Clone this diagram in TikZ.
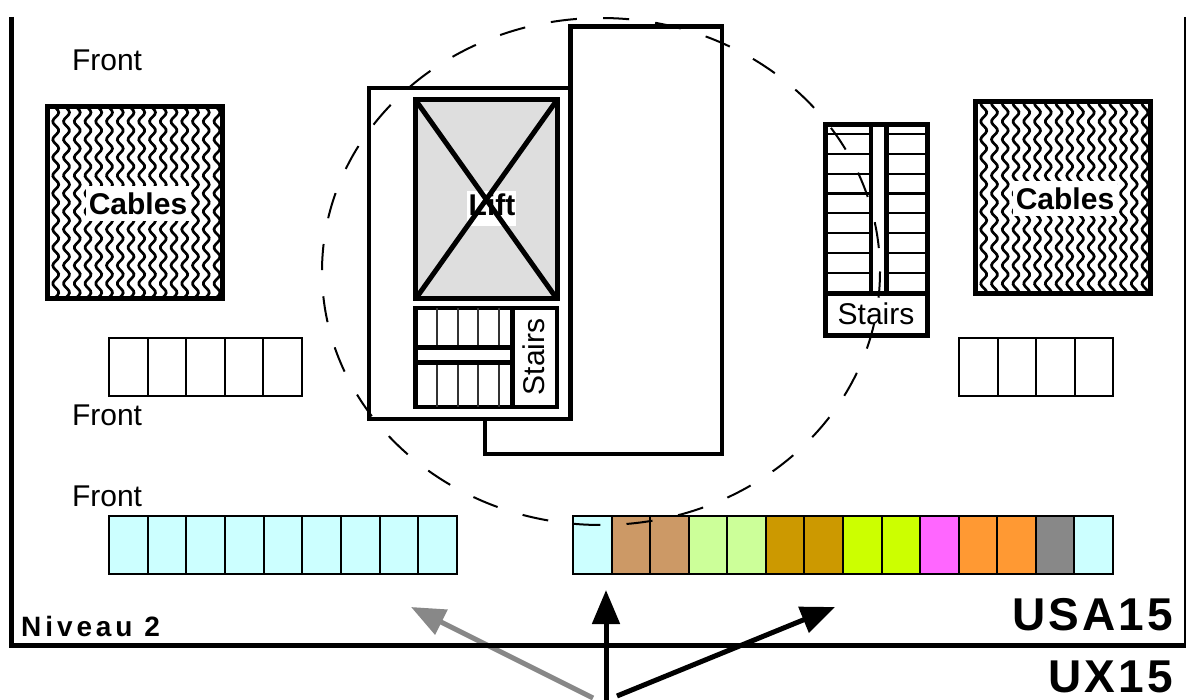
\documentclass[tikz,border=0pt]{standalone}
\usepackage{fontspec}
\setmainfont{Liberation Sans}
\usetikzlibrary{arrows.meta}
\definecolor{ccyan}{HTML}{CCFFFF}
\definecolor{ctan}{HTML}{CC9966}
\definecolor{cpale}{HTML}{CCFF99}
\definecolor{cgold}{HTML}{CC9900}
\definecolor{clime}{HTML}{CCFF00}
\definecolor{cmag}{HTML}{FF66FF}
\definecolor{corange}{HTML}{FF9933}
\definecolor{cgrey}{HTML}{888888}
\newcommand{\fsz}[1]{\fontsize{#1}{#1}\selectfont}
\tikzset{
  x=1pt,y=-1pt,
  cell/.style={draw=black,line width=2pt,fill=white,minimum width=38.6pt,minimum height=58pt,inner sep=0pt,outer sep=0pt,anchor=north west},
  wall/.style={draw=black,line width=4.5pt,line join=miter},
  heavy/.style={draw=black,line width=5pt},
  tread/.style={draw=black!80,line width=2.4pt},
  bar/.style={draw=black,line width=4.5pt},
  label/.style={inner sep=0pt,outer sep=0pt,font=\fsz{30}},
  whitelabel/.style={fill=white,inner sep=0pt,outer sep=0pt},
  pointer/.style={line width=5pt,-{Triangle[length=34pt,width=27pt]}},
}
\newcommand{\hatchbox}[5]{% name x1 y1 x2 y2
  \begin{scope}
    \clip (#2,#3) rectangle (#4,#5);
    \foreach \cx in {0,...,17}
      \draw[black,line width=2.7pt]
        plot[variable=\t,domain=#3-20:#5+20,samples=110,smooth]
        ({#2+\cx*10.75-2+3*sin(\t/18*360)},{\t});
  \end{scope}
  \draw[heavy] (#2,#3) rectangle (#4,#5);
}
\begin{document}
\begin{tikzpicture}
\useasboundingbox (0,0) rectangle (1189,700);
% pointers (grey one goes under the floor line)
\coordinate (gt) at (593,698); \coordinate (gh) at (411,607);
\coordinate (mt) at (606,700); \coordinate (mh) at (606,590);
\coordinate (rt) at (617,696); \coordinate (rh) at (835,607);
\draw[pointer,cgrey] (gt) -- (gh);
% frame
\draw[black,line width=5.5pt,line join=miter] (11.5,17) -- (11.5,645.5) -- (1186,645.5);
\draw[black,line width=2pt] (1185,17) -- (1185,645.5);
\draw[pointer,black] (mt) -- (mh);
\draw[pointer,black] (rt) -- (rh);
% building
\draw[wall] (369,88) rectangle (570.5,419);
\draw[wall] (570.5,88) -- (570.5,26.5) -- (722,26.5) -- (722,454) -- (485,454) -- (485,419);
% lift
\draw[heavy,fill=black!13] (415.5,100) rectangle (557,299);
\node[whitelabel,minimum width=49pt,minimum height=35pt] (liftbg) at (491.5,208.5) {};
\node[label,font=\fsz{30}\bfseries] (lift) at (492,205) {Lift};
\draw[heavy] (415.5,100) -- (557,299) (557,100) -- (415.5,299);
% left stairs
\draw[wall,fill=white] (415.5,308) rectangle (557,407);
\foreach \x in {437,458,478,499} \draw[tread] (\x,308) -- (\x,407);
\draw[bar,fill=white] (415.5,347.7) rectangle (512.7,362.3);
\draw[bar] (512.7,308) -- (512.7,407);
\node[label,rotate=90] (stairsa) at (534,357) {Stairs};
% right stairs
\draw[heavy,fill=white] (825,124.5) rectangle (927.5,336);
\foreach \y in {134.3,154.3,174,193.7,213.3,233.3,253.3,273.3} \draw[tread,draw=black] (825,\y) -- (927.5,\y);
\draw[bar,fill=white] (871,124.5) rectangle (886.7,294);
\draw[heavy] (825,294) -- (927.5,294);
\node[label] (stairsb) at (876,314) {Stairs};
% cables
\hatchbox{a}{47}{107}{222}{298.5}
\hatchbox{b}{975}{102}{1150}{294}
\node[label,whitelabel,font=\fsz{30}\bfseries,minimum width=104pt,minimum height=35pt] (cablesa) at (138,204) {Cables};
\node[label,whitelabel,font=\fsz{30}\bfseries,minimum width=104pt,minimum height=35pt] (cablesb) at (1065,199) {Cables};
% racks
\foreach \i in {0,...,4} \node[cell] (m\i) at (109+\i*38.6,338.5) {};
\foreach \i in {0,...,3} \node[cell] (n\i) at (959+\i*38.6,338.5) {};
\foreach \i in {0,...,8} \node[cell,fill=ccyan] (l\i) at (109+\i*38.67,516) {};
\foreach \c [count=\i from 0] in {ccyan,ctan,ctan,cpale,cpale,cgold,cgold,clime,clime,cmag,corange,corange,cgrey,ccyan}
  \node[cell,fill=\c] (r\i) at (573+\i*38.57,516) {};
% dashed circle
\draw[black,line width=2pt,dash pattern=on 26.2pt off 26.2pt] (601,271.5) ellipse [x radius=279,y radius=253.5];
% texts
\node[label,anchor=base west] (f1) at (72,71) {Front};
\node[label,anchor=base west] (f2) at (72,425) {Front};
\node[label,anchor=base west] (f3) at (72,506) {Front};
\node[inner sep=0pt,anchor=base west,font=\fsz{28}\bfseries\addfontfeature{LetterSpace=14}] (niv) at (21,636) {Niveau 2};
\node[inner sep=0pt,anchor=base east,font=\fsz{46}\bfseries\addfontfeature{LetterSpace=7}] (usa) at (1173.5,630) {USA15};
\node[inner sep=0pt,anchor=base east,font=\fsz{46}\bfseries\addfontfeature{LetterSpace=7}] (ux) at (1173.5,692) {UX15};
\end{tikzpicture}
\end{document}
